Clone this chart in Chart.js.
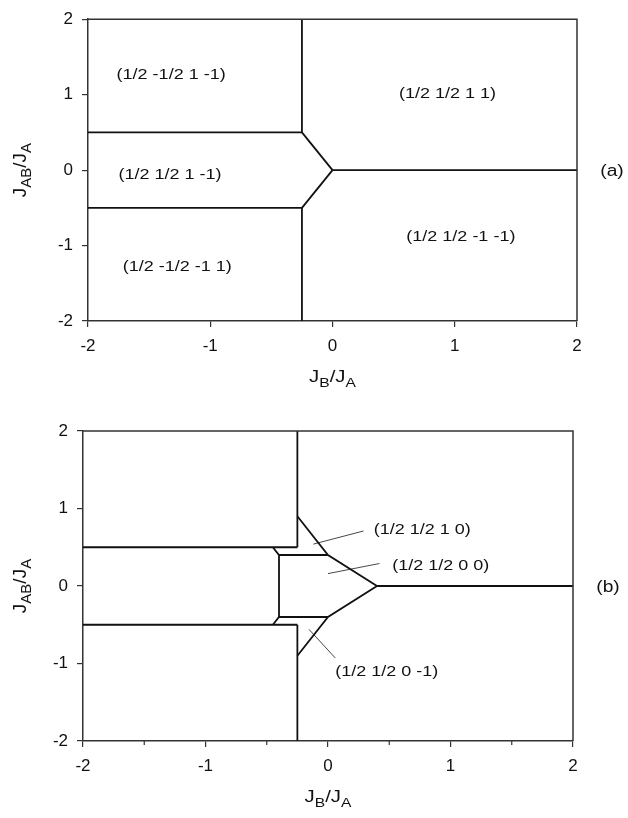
<!DOCTYPE html>
<html>
<head>
<meta charset="utf-8">
<script src="https://cdn.jsdelivr.net/npm/chart.js@4.4.1/dist/chart.umd.min.js"></script>
<style>
  body { margin: 0; background: #fff; width: 628px; height: 818px; overflow: hidden; position: relative; }
  canvas { position: absolute; left: 0; }
  #chartA { top: 0; }
  #chartB { top: 400px; }
</style>
</head>
<body>
<canvas id="chartA" width="628" height="400"></canvas>
<canvas id="chartB" width="628" height="418"></canvas>
<script>
const axisTicks = [-2, -1, 0, 1, 2];
const minorTicksB = [-1.5, -0.5, 0.5, 1.5];

// phase boundaries, panel (a): each entry is one polyline of [JB/JA, JAB/JA]
const boundariesA = [
  [[-2, 0.5], [-0.25, 0.5]],
  [[-2, -0.5], [-0.25, -0.5]],
  [[-0.25, 2], [-0.25, 0.5]],
  [[-0.25, -0.5], [-0.25, -2]],
  [[-0.25, 0.5], [0, 0]],
  [[-0.25, -0.5], [0, 0]],
  [[0, 0], [2, 0]]
];
const phaseNamesA = ['(1/2 -1/2 1 -1)', '(1/2 1/2 1 1)', '(1/2 1/2 1 -1)', '(1/2 1/2 -1 -1)', '(1/2 -1/2 -1 1)'];
const phaseAtA = [[-1.32, 1.28], [0.94, 1.03], [-1.33, -0.05], [1.05, -0.87], [-1.27, -1.27]];

// phase boundaries, panel (b)
const boundariesB = [
  [[-2, 0.5], [-0.25, 0.5]],
  [[-2, -0.5], [-0.25, -0.5]],
  [[-0.25, 2], [-0.25, 0.5]],
  [[-0.25, -0.5], [-0.25, -2]],
  [[-0.25, 0.9], [0, 0.4], [0.4, 0], [0, -0.4], [-0.25, -0.9]],
  [[0.4, 0], [2, 0]],
  [[-0.45, 0.5], [-0.4, 0.4], [0, 0.4]],
  [[-0.45, -0.5], [-0.4, -0.4], [0, -0.4]],
  [[-0.4, 0.4], [-0.4, -0.4]]
];
const leadersB = [
  [[-0.12, 0.54], [0.29, 0.71]],
  [[0.0, 0.16], [0.42, 0.29]],
  [[-0.155, -0.56], [0.06, -0.93]]
];
const phaseNamesB = ['(1/2 1/2 1 0)', '(1/2 1/2 0 0)', '(1/2 1/2 0 -1)'];
const phaseAtB = [[0.77, 0.74], [0.92, 0.28], [0.48, -1.09]];

const FONT = "'Liberation Sans', Arial, sans-serif";
const STRETCH = 1.2;
const INK = '#111';

function lineSets(polylines, width, color) {
  return polylines.map(p => ({
    data: p.map(([x, y]) => ({ x, y })),
    showLine: true,
    pointRadius: 0,
    borderColor: color,
    borderWidth: width,
    tension: 0
  }));
}

function drawWide(ctx, text, x, y, size) {
  ctx.save();
  ctx.font = size + 'px ' + FONT;
  ctx.textAlign = 'left';
  ctx.textBaseline = 'alphabetic';
  const w = ctx.measureText(text).width * STRETCH;
  ctx.translate(x - w / 2, y);
  ctx.scale(STRETCH, 1);
  ctx.fillText(text, 0, 0);
  ctx.restore();
}

// J_X/J_Y style label: parts alternate normal and subscript text
function drawSubscripted(ctx, parts, size, subSize) {
  const widths = parts.map(([t, sub]) => {
    ctx.font = (sub ? subSize : size) + 'px ' + FONT;
    return ctx.measureText(t).width;
  });
  const total = widths.reduce((a, b) => a + b, 0);
  let x = -total / 2;
  ctx.textAlign = 'left';
  ctx.textBaseline = 'alphabetic';
  parts.forEach(([t, sub], i) => {
    ctx.font = (sub ? subSize : size) + 'px ' + FONT;
    ctx.fillText(t, x, sub ? 5 : 0);
    x += widths[i];
  });
}

const decorations = {
  id: 'decorations',
  afterDraw(chart, args, opts) {
    const { ctx, chartArea: a, scales: { x, y } } = chart;
    ctx.save();
    ctx.fillStyle = INK;

    // top and right frame
    ctx.strokeStyle = '#333';
    ctx.lineWidth = 1.5;
    ctx.beginPath();
    ctx.moveTo(a.left, a.top);
    ctx.lineTo(a.right, a.top);
    ctx.lineTo(a.right, a.bottom);
    ctx.stroke();

    // minor ticks on the x axis
    ctx.lineWidth = 1.2;
    (opts.minor || []).forEach(v => {
      const px = x.getPixelForValue(v);
      ctx.beginPath();
      ctx.moveTo(px, a.bottom);
      ctx.lineTo(px, a.bottom + 4);
      ctx.stroke();
    });

    // phase names
    opts.names.forEach((name, i) => {
      const [vx, vy] = opts.at[i];
      drawWide(ctx, name, x.getPixelForValue(vx), y.getPixelForValue(vy) + 5.4, 15);
    });

    // panel tag
    drawWide(ctx, opts.tag, a.right + 35, y.getPixelForValue(0) + 5.7, 16);

    // x axis title
    ctx.save();
    ctx.translate((a.left + a.right) / 2, a.bottom + 61);
    ctx.scale(STRETCH, 1);
    drawSubscripted(ctx, [['J', false], ['B', true], ['/J', false], ['A', true]], 17, 13);
    ctx.restore();

    // y axis title
    ctx.save();
    ctx.translate(26, y.getPixelForValue(0));
    ctx.rotate(-Math.PI / 2);
    drawSubscripted(ctx, [['J', false], ['AB', true], ['/J', false], ['A', true]], 19, 15);
    ctx.restore();

    ctx.restore();
  }
};

function makePanel(id, area, boundaries, leaders, plug) {
  const canvas = document.getElementById(id);
  const W = canvas.width, H = canvas.height;
  const tickFont = { family: FONT, size: 17 };
  return new Chart(canvas, {
    type: 'scatter',
    data: { datasets: lineSets(boundaries, 1.8, INK).concat(lineSets(leaders, 0.9, '#333')) },
    options: {
      responsive: false,
      animation: false,
      layout: { padding: { left: 0, top: area.top, right: W - area.right, bottom: 0 } },
      plugins: { legend: { display: false }, tooltip: { enabled: false }, decorations: plug },
      scales: {
        x: {
          type: 'linear', min: -2, max: 2,
          afterFit: s => { s.height = H - area.bottom; },
          afterBuildTicks: s => { s.ticks = axisTicks.map(v => ({ value: v })); },
          ticks: { font: tickFont, color: INK, padding: 9, autoSkip: false, maxRotation: 0 },
          grid: { display: true, drawOnChartArea: false, drawTicks: true, tickLength: 6, color: '#333', lineWidth: 1.2 },
          border: { display: true, color: '#333', width: 1.5 }
        },
        y: {
          type: 'linear', min: -2, max: 2,
          afterFit: s => { s.width = area.left; },
          afterBuildTicks: s => { s.ticks = axisTicks.map(v => ({ value: v })); },
          ticks: { font: tickFont, color: INK, padding: 9, autoSkip: false },
          grid: { display: true, drawOnChartArea: false, drawTicks: true, tickLength: 6, color: '#333', lineWidth: 1.2 },
          border: { display: true, color: '#333', width: 1.5 }
        }
      }
    },
    plugins: [decorations]
  });
}

makePanel('chartA', { left: 88, right: 577, top: 14, bottom: 321 }, boundariesA, [],
  { names: phaseNamesA, at: phaseAtA, tag: '(a)', minor: [] });
makePanel('chartB', { left: 83, right: 573, top: 31, bottom: 341 }, boundariesB, leadersB,
  { names: phaseNamesB, at: phaseAtB, tag: '(b)', minor: minorTicksB });
</script>
</body>
</html>
